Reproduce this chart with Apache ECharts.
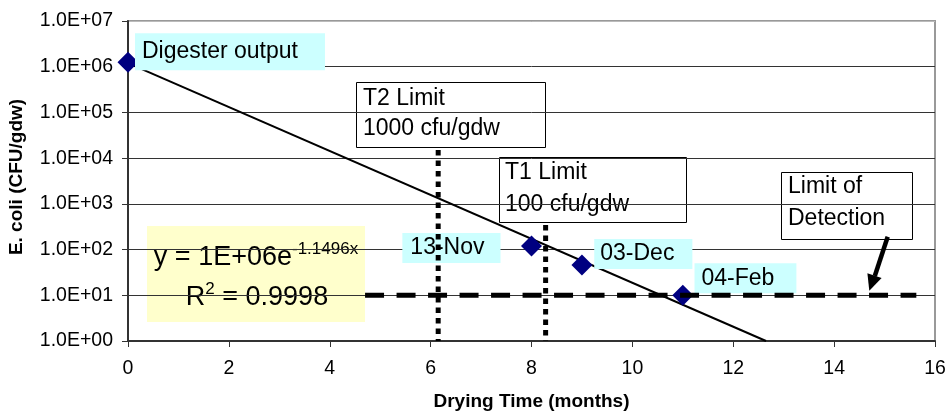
<!DOCTYPE html>
<html>
<head>
<meta charset="utf-8">
<script src="https://cdn.jsdelivr.net/npm/echarts@6/dist/echarts.min.js"></script>
<style>html,body{margin:0;padding:0;background:#fff}#c{width:949px;height:414px}</style>
</head>
<body>
<div id="c"></div>
<script>
// ---- data ----
const sampleMonths = [0, 8, 9, 11];
const ecoliValues = [1.26e6, 120, 46, 10];
const pointLabels = ['Digester output', '13-Nov', '03-Dec', '04-Feb'];
const trendMonths = [0, 12.65];
const trendValues = [1.2e6, 1];
const t2LimitMonth = 6.15;     // vertical dotted line (T2)
const t2LimitSpan = [1.5e4, 1];
const t1LimitMonth = 8.28;     // vertical dotted line (T1)
const t1LimitSpan = [345, 1];
const detectionLimit = 10;     // horizontal dashed line
const detectionSpan = [4.7, 15.63];
const xTicks = [0, 2, 4, 6, 8, 10, 12, 14, 16];

const FONT = 'Liberation Sans, Arial, sans-serif';

const labelStyles = [
  {align: 'left', offset: [7, -10.5], padding: [7.5, 27, 7.5, 7]},
  {align: 'right', offset: [-31, 2], padding: [4, 16, 4, 8]},
  {align: 'left', offset: [12.3, -11], padding: [4, 18, 4, 6]},
  {align: 'left', offset: [11.7, -17], padding: [4, 22, 4, 7]}
];

const scatterData = sampleMonths.map((m, i) => ({
  value: [m, ecoliValues[i]],
  label: Object.assign({
    show: true, position: 'inside', verticalAlign: 'middle',
    formatter: pointLabels[i], color: '#000', fontSize: 23, fontFamily: FONT,
    lineHeight: 22, backgroundColor: '#CCFFFF'
  }, labelStyles[i])
}));

function fmtExp(v) {
  const e = Math.round(Math.log10(v));
  const m = v / Math.pow(10, e);
  return m.toFixed(1) + 'E+' + String(e).padStart(2, '0');
}

const chart = echarts.init(document.getElementById('c'), null, {renderer: 'canvas'});

const gridColors = ['#333', '#333', '#333', '#333', '#333', '#333', '#333', '#bbb'];

function box(x, y, w, h, lines, tx, ly) {
  const children = [{
    type: 'rect', shape: {x: x + 0.5, y: y + 0.5, width: w, height: h},
    style: {fill: '#fff', stroke: '#000', lineWidth: 1}
  }];
  lines.forEach((t, i) => children.push({
    type: 'text', style: {text: t, x: tx, y: ly[i], fill: '#000', fontSize: 23, fontFamily: FONT,
      align: 'left', verticalAlign: 'middle'}
  }));
  return {type: 'group', z: 100, children};
}

const option = {
  animation: false,
  backgroundColor: '#fff',
  grid: {left: 128, right: 14, top: 21, bottom: 73, show: true, borderColor: '#999', borderWidth: 2,
    backgroundColor: 'transparent', containLabel: false, outerBoundsMode: 'none'},
  xAxis: {
    type: 'value', min: xTicks[0], max: xTicks[xTicks.length - 1], interval: 2,
    name: 'Drying Time (months)', nameLocation: 'middle', nameGap: 51,
    nameTextStyle: {fontSize: 19, fontWeight: 'bold', fontFamily: FONT, color: '#000'},
    axisLine: {show: true, lineStyle: {color: '#333', width: 2}},
    axisTick: {show: true, length: 6, lineStyle: {color: '#333', width: 1}},
    axisLabel: {fontSize: 19.5, fontFamily: FONT, color: '#000', margin: 18},
    splitLine: {show: false}
  },
  yAxis: {
    type: 'log', logBase: 10, min: 1, max: 1e7, interval: 1,
    name: 'E. coli (CFU/gdw)', nameLocation: 'middle', nameGap: 102,
    nameTextStyle: {fontSize: 19, fontWeight: 'bold', fontFamily: FONT, color: '#000', padding: [0, 0, 0, 8]},
    axisLine: {show: true, lineStyle: {color: '#333', width: 2}},
    axisTick: {show: true, length: 6, lineStyle: {color: '#333', width: 1}},
    axisLabel: {fontSize: 19.5, fontFamily: FONT, color: '#000', margin: 15, formatter: fmtExp},
    splitLine: {show: true, lineStyle: {color: gridColors, width: 1}},
    minorTick: {show: false}
  },
  series: [
    {
      type: 'line', z: 2, data: trendMonths.map((m, i) => [m, trendValues[i]]),
      showSymbol: false, symbol: 'none', lineStyle: {color: '#000', width: 2}, silent: true
    },
    {
      type: 'scatter', z: 3, symbol: 'diamond', symbolSize: 21,
      itemStyle: {color: '#000080', opacity: 1}, data: scatterData
    },
    {
      type: 'line', z: 10, symbol: 'none', data: t2LimitSpan.map(v => [t2LimitMonth, v]),
      lineStyle: {color: '#000', width: 5, type: [5.5, 5]}
    },
    {
      type: 'line', z: 10, symbol: 'none', data: t1LimitSpan.map(v => [t1LimitMonth, v]),
      lineStyle: {color: '#000', width: 5, type: [5.5, 5]}
    },
    {
      type: 'line', z: 10, symbol: 'none', data: detectionSpan.map(m => [m, detectionLimit]),
      lineStyle: {color: '#000', width: 5, type: [19, 12.5]}
    }
  ],
  graphic: [
    // trendline equation box
    {
      type: 'group', z: 100, children: [
        {type: 'rect', shape: {x: 147, y: 226, width: 218, height: 96}, style: {fill: '#FFFFCC'}},
        {type: 'text', style: {
          text: '{b|y = 1E+06e}{s|-1.1496x}', x: 256, y: 256, align: 'center', verticalAlign: 'middle',
          rich: {
            b: {fontSize: 27, fontFamily: FONT, fill: '#000', lineHeight: 30, verticalAlign: 'bottom'},
            s: {fontSize: 17, fontFamily: FONT, fill: '#000', lineHeight: 30, verticalAlign: 'top'}
          }
        }},
        {type: 'text', style: {
          text: '{b|R}{s|2}{b| = 0.9998}', x: 257, y: 296, align: 'center', verticalAlign: 'middle',
          rich: {
            b: {fontSize: 27, fontFamily: FONT, fill: '#000', lineHeight: 30, verticalAlign: 'bottom'},
            s: {fontSize: 17, fontFamily: FONT, fill: '#000', lineHeight: 30, verticalAlign: 'top'}
          }
        }}
      ]
    },
    box(356, 82, 189, 65, ['T2 Limit', '1000 cfu/gdw'], 363, [98.5, 129]),
    box(499, 157, 187, 65, ['T1 Limit', '100 cfu/gdw'], 505, [173, 205]),
    box(781, 172, 131, 67, ['Limit of', 'Detection'], 788, [187, 218.5]),
    // arrow
    {type: 'polyline', z: 101, shape: {points: [[887.7, 236.7], [874.8, 276]]}, style: {stroke: '#000', lineWidth: 4.5, fill: null}},
    {type: 'polygon', z: 101, shape: {points: [[869.3, 290.7], [881.6, 278], [867.4, 273.2]]}, style: {fill: '#000'}}
  ]
};
chart.setOption(option);
</script>
</body>
</html>
